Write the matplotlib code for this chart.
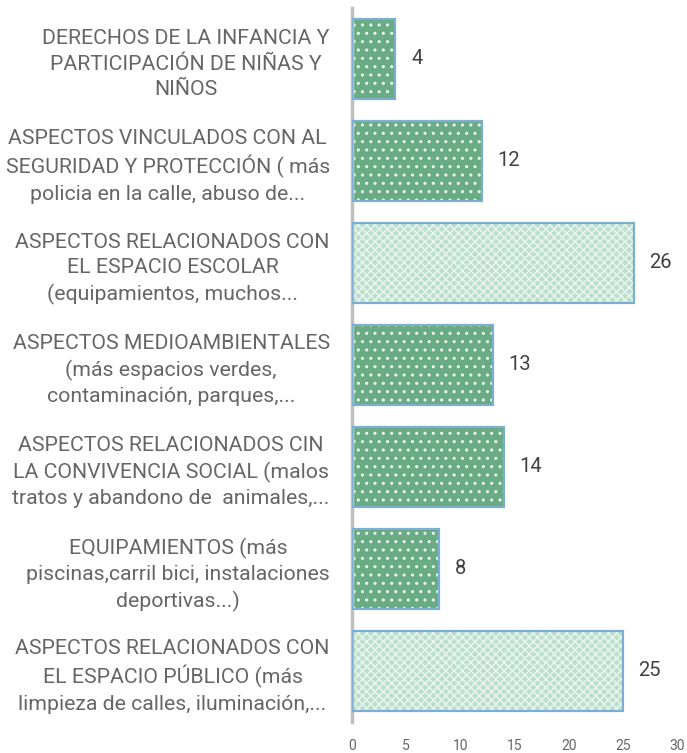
import matplotlib
matplotlib.use("Agg")
import matplotlib.pyplot as plt

categories = [
    "DERECHOS DE LA INFANCIA Y\nPARTICIPACIÓN DE NIÑAS Y\nNIÑOS",
    "ASPECTOS VINCULADOS CON AL\nSEGURIDAD Y PROTECCIÓN ( más\npolicia en la calle, abuso de...",
    "ASPECTOS RELACIONADOS CON\nEL ESPACIO ESCOLAR\n(equipamientos, muchos...",
    "ASPECTOS MEDIOAMBIENTALES\n(más espacios verdes,\ncontaminación, parques,...",
    "ASPECTOS RELACIONADOS CIN\nLA CONVIVENCIA SOCIAL (malos\ntratos y abandono de  animales,...",
    "EQUIPAMIENTOS (más\npiscinas,carril bici, instalaciones\ndeportivas...)",
    "ASPECTOS RELACIONADOS CON\nEL ESPACIO PÚBLICO (más\nlimpieza de calles, iluminación,...",
]
values = [4, 12, 26, 13, 14, 8, 25]
styles = ["dot", "dot", "light", "dot", "dot", "dot", "light"]
xticks = [0, 5, 10, 15, 20, 25, 30]

plt.rcParams['font.family'] = ['Roboto', 'DejaVu Sans']
plt.rcParams['hatch.linewidth'] = 1.1

fig = plt.figure(figsize=(6.87, 7.53), dpi=100)
ax = fig.add_axes([352/687, 31/753, (677-352)/687, (722-8)/753])

ypos = list(range(len(categories)))
face = {"dot": "#69ab82", "light": "#bcdecf"}
hatch = {"dot": "..", "light": "xxxx"}
for y, v, s in zip(ypos, values, styles):
    ax.barh(y, v, height=0.78, color=face[s], edgecolor="#e8f5ec", linewidth=0,
            hatch=hatch[s], zorder=2)
    ax.barh(y, v, height=0.78, fill=False, edgecolor="#7caed0", linewidth=1.6,
            zorder=3)
    ax.text(v + 1.45, y, str(v), va="center", ha="left", fontsize=14.5,
            color="#404040")

ax.set_xlim(0, 30)
ax.set_ylim(len(categories) - 0.5, -0.5)
ax.set_yticks(ypos)
ax.set_yticklabels(categories, fontsize=15.3, color="#666666",
                   multialignment="center", linespacing=1.41)
ax.set_xticks(xticks)
ax.set_xticklabels([str(t) for t in xticks], fontsize=10, color="#666666")
ax.tick_params(axis="both", length=0)
ax.tick_params(axis="y", pad=16)
ax.tick_params(axis="x", pad=12)
for sp in ["top", "right", "bottom"]:
    ax.spines[sp].set_visible(False)
ax.spines["left"].set_color("#bfbfbf")
ax.spines["left"].set_linewidth(2.5)

fig.savefig("out.png", dpi=100)
